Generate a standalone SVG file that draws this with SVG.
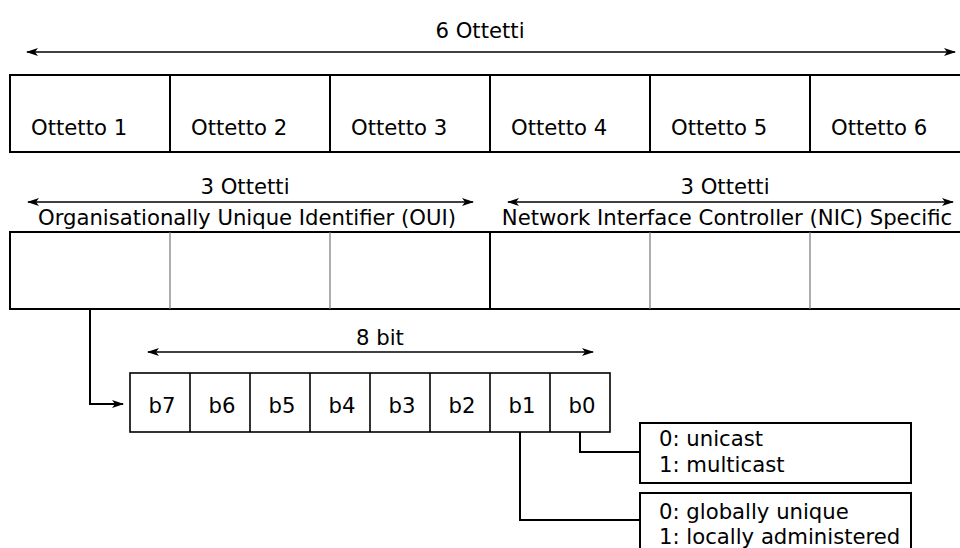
<svg xmlns="http://www.w3.org/2000/svg" width="960" height="548" viewBox="0 0 960 548">
<style>
text{font-family:"DejaVu Sans",sans-serif;font-size:21.2px;fill:#000}
.box{fill:#fff;stroke:#000;stroke-width:2}
.div{stroke:#000;stroke-width:2}
.thin{stroke:#777;stroke-width:1.2}
.bit{fill:#fff;stroke:#000;stroke-width:1.6}
.dim{stroke:#000;stroke-width:1.3;fill:none}
.con{stroke:#000;stroke-width:2;fill:none}
</style>
<defs>
<marker id="ah" viewBox="0 0 12 8" refX="11" refY="4" markerWidth="12" markerHeight="8" markerUnits="userSpaceOnUse" orient="auto-start-reverse">
<path d="M0,0 L12,4 L0,8 L3,4 Z" fill="#000"/>
</marker>
</defs>
<rect width="960" height="548" fill="#fff"/>
<g id="top-dim">
<text x="480" y="38" text-anchor="middle">6 Ottetti</text>
</g>
<g id="octets">
<rect class="box" x="10" y="75" width="962" height="77"/>
<line class="div" x1="170" y1="75" x2="170" y2="152"/>
<line class="div" x1="330" y1="75" x2="330" y2="152"/>
<line class="div" x1="490" y1="75" x2="490" y2="152"/>
<line class="div" x1="650" y1="75" x2="650" y2="152"/>
<line class="div" x1="810" y1="75" x2="810" y2="152"/>
<text x="31" y="135">Ottetto 1</text>
<text x="191" y="135">Ottetto 2</text>
<text x="351" y="135">Ottetto 3</text>
<text x="511" y="135">Ottetto 4</text>
<text x="671" y="135">Ottetto 5</text>
<text x="831" y="135">Ottetto 6</text>
</g>
<g id="oui-label">
<text x="245" y="194" text-anchor="middle">3 Ottetti</text>
<text x="247" y="225" text-anchor="middle">Organisationally Unique Identifier (OUI)</text>
</g>
<g id="nic-label">
<text x="725" y="194" text-anchor="middle">3 Ottetti</text>
<text x="727" y="225" text-anchor="middle">Network Interface Controller (NIC) Specific</text>
</g>
<g id="fields">
<rect class="box" x="10" y="232" width="962" height="77"/>
<line class="thin" x1="170" y1="232" x2="170" y2="309"/>
<line class="thin" x1="330" y1="232" x2="330" y2="309"/>
<line class="div" x1="490" y1="232" x2="490" y2="309"/>
<line class="thin" x1="650" y1="232" x2="650" y2="309"/>
<line class="thin" x1="810" y1="232" x2="810" y2="309"/>
</g>
<g id="bit-label">
<text x="380" y="345" text-anchor="middle">8 bit</text>
</g>
<g id="bits">
<rect class="bit" x="130" y="373" width="480" height="59"/>
<line class="bit" x1="190" y1="373" x2="190" y2="432"/>
<line class="bit" x1="250" y1="373" x2="250" y2="432"/>
<line class="bit" x1="310" y1="373" x2="310" y2="432"/>
<line class="bit" x1="370" y1="373" x2="370" y2="432"/>
<line class="bit" x1="430" y1="373" x2="430" y2="432"/>
<line class="bit" x1="490" y1="373" x2="490" y2="432"/>
<line class="bit" x1="550" y1="373" x2="550" y2="432"/>
<text x="162" y="413" text-anchor="middle">b7</text>
<text x="222" y="413" text-anchor="middle">b6</text>
<text x="282" y="413" text-anchor="middle">b5</text>
<text x="342" y="413" text-anchor="middle">b4</text>
<text x="402" y="413" text-anchor="middle">b3</text>
<text x="462" y="413" text-anchor="middle">b2</text>
<text x="522" y="413" text-anchor="middle">b1</text>
<text x="582" y="413" text-anchor="middle">b0</text>
</g>
<g id="cast-box">
<rect class="box" x="640" y="423" width="271" height="60"/>
<text x="659" y="446">0: unicast</text>
<text x="659" y="472">1: multicast</text>
</g>
<g id="admin-box">
<rect class="box" x="640" y="493" width="271" height="70"/>
<text x="659" y="519">0: globally unique</text>
<text x="659" y="544">1: locally administered</text>
</g>
<g id="connectors">
<line class="dim" x1="27" y1="52" x2="955" y2="52" marker-start="url(#ah)" marker-end="url(#ah)"/>
<line class="dim" x1="28" y1="202" x2="473" y2="202" marker-start="url(#ah)" marker-end="url(#ah)"/>
<line class="dim" x1="508" y1="202" x2="953" y2="202" marker-start="url(#ah)" marker-end="url(#ah)"/>
<line class="dim" x1="148" y1="352" x2="593" y2="352" marker-start="url(#ah)" marker-end="url(#ah)"/>
<path class="con" d="M90,309 V404 H123" marker-end="url(#ah)"/>
<path class="con" d="M580,432 V452 H640"/>
<path class="con" d="M520,432 V520 H640"/>
</g>
</svg>
